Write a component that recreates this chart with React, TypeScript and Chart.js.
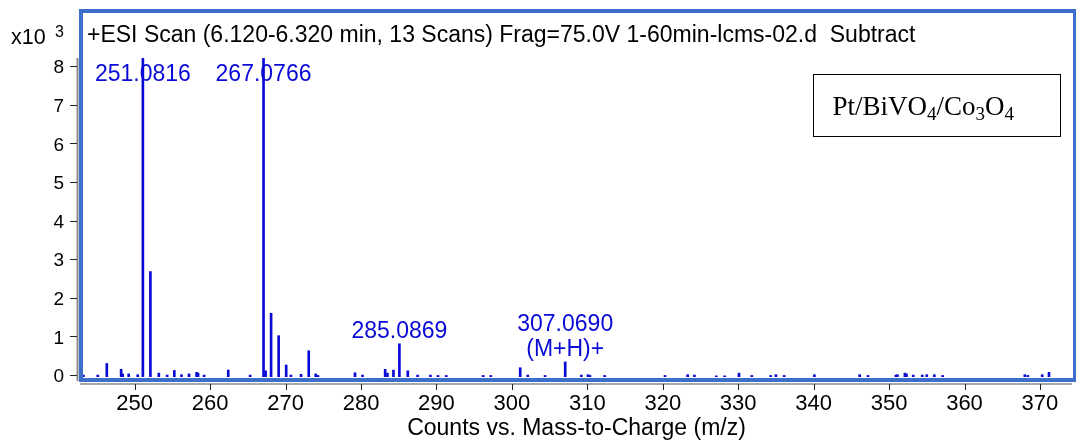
import React, { useEffect, useRef } from "react";
import { Chart, registerables } from "chart.js";

Chart.register(...registerables);

// m/z of each centroid peak
const mzValues: number[] = [
  243.2, 245.1, 246.3, 248.2, 248.4, 249.2, 250.4, 251.0816, 252.08, 253.2,
  254.3, 255.25, 256.2, 257.2, 258.2, 258.4, 259.2, 262.4, 265.3, 267.0766,
  267.35, 268.08, 269.08, 270.08, 270.7, 272.05, 273.07, 274.0, 274.3, 279.2,
  280.2, 283.2, 283.5, 284.3, 285.0869, 286.2, 287.5, 289.2, 290.2, 291.3,
  296.2, 297.2, 301.1, 302.1, 304.4, 307.069, 309.2, 310.1, 310.35, 312.3,
  320.3, 323.3, 324.2, 327.1, 328.2, 330.1, 331.8, 334.3, 335.0, 336.1,
  340.1, 346.1, 347.2, 350.9, 351.1, 352.1, 352.3, 353.2, 354.4, 355.0,
  356.0, 357.1, 368.0, 368.4, 370.3, 371.2,
];

// intensities in counts x 10^3
const intensities: number[] = [
  0.05, 0.05, 0.35, 0.2, 0.08, 0.08, 0.06, 8.26, 2.73, 0.1,
  0.05, 0.17, 0.06, 0.08, 0.12, 0.1, 0.05, 0.18, 0.05, 8.26,
  0.16, 1.65, 1.07, 0.31, 0.05, 0.07, 0.68, 0.08, 0.04, 0.11,
  0.05, 0.2, 0.1, 0.18, 0.86, 0.16, 0.05, 0.05, 0.04, 0.04,
  0.04, 0.04, 0.24, 0.05, 0.04, 0.39, 0.05, 0.06, 0.04, 0.04,
  0.04, 0.06, 0.05, 0.03, 0.03, 0.1, 0.04, 0.04, 0.06, 0.04,
  0.06, 0.06, 0.04, 0.05, 0.06, 0.1, 0.08, 0.05, 0.05, 0.06,
  0.06, 0.04, 0.06, 0.04, 0.06, 0.12,
];

const yTickValues: number[] = [0, 1, 2, 3, 4, 5, 6, 7, 8];
const xTickValues: number[] = [250, 260, 270, 280, 290, 300, 310, 320, 330, 340, 350, 360, 370];

const labelledMz: number[] = [251.0816, 267.0766, 285.0869, 307.069];
const labelledText: string[][] = [["251.0816"], ["267.0766"], ["285.0869"], ["307.0690", "(M+H)+"]];

const titleText = "+ESI Scan (6.120-6.320 min, 13 Scans) Frag=75.0V 1-60min-lcms-02.d  Subtract";
const xAxisTitle = "Counts vs. Mass-to-Charge (m/z)";
const legendParts: [string, boolean][] = [
  ["Pt/BiVO", false], ["4", true], ["/Co", false], ["3", true], ["O", false], ["4", true],
];

const SANS = "'Liberation Sans', Arial, sans-serif";
const SERIF = "'Liberation Serif', 'Times New Roman', serif";
const PEAK_BLUE = "#0a0ad6";
const FRAME_BLUE = "#3d6fca";

const decorPlugin = {
  id: "decor",
  afterDraw(chart: any) {
    const ctx = chart.ctx as CanvasRenderingContext2D;
    const xs = chart.scales.x;
    const ys = chart.scales.y;
    const area = chart.chartArea;
    ctx.save();

    // gray axis lines and ticks
    ctx.strokeStyle = "#8a8a8a";
    ctx.lineWidth = 2;
    ctx.beginPath();
    ctx.moveTo(77.5, area.top);
    ctx.lineTo(77.5, area.bottom + 4);
    ctx.stroke();
    ctx.lineWidth = 1.5;
    ctx.beginPath();
    ctx.moveTo(area.left - 1, 384);
    ctx.lineTo(area.right, 384);
    ctx.stroke();
    ctx.strokeStyle = "#222";
    ctx.lineWidth = 1;
    for (const v of yTickValues) {
      const py = Math.round(ys.getPixelForValue(v)) - 1.5;
      ctx.beginPath();
      ctx.moveTo(70, py);
      ctx.lineTo(77, py);
      ctx.stroke();
    }
    for (const v of xTickValues) {
      const px = Math.round(xs.getPixelForValue(v)) + 0.5;
      ctx.beginPath();
      ctx.moveTo(px, 384);
      ctx.lineTo(px, 390);
      ctx.stroke();
    }

    // frame
    ctx.strokeStyle = FRAME_BLUE;
    ctx.lineWidth = 4;
    ctx.strokeRect(81, 11, 994, 369);

    // title inside frame
    ctx.fillStyle = "#000";
    ctx.textBaseline = "middle";
    ctx.textAlign = "left";
    ctx.font = `23px ${SANS}`;
    ctx.fillText(titleText, 87, 36);

    // x10^3
    ctx.font = `21.5px ${SANS}`;
    ctx.fillText("x10", 11, 38);
    ctx.font = `16px ${SANS}`;
    ctx.fillText("3", 55, 33);

    // peak labels
    ctx.fillStyle = PEAK_BLUE;
    ctx.textAlign = "center";
    ctx.font = `23px ${SANS}`;
    labelledMz.forEach((mz, i) => {
      const idx = mzValues.indexOf(mz);
      const top = ys.getPixelForValue(intensities[idx]);
      const lines = labelledText[i];
      const lastY = Math.max(top - 12, 75 + (lines.length - 1) * 25);
      const px = xs.getPixelForValue(mz);
      lines.forEach((t, j) => {
        ctx.fillText(t, px, lastY - (lines.length - 1 - j) * 25);
      });
    });

    // legend box
    ctx.strokeStyle = "#000";
    ctx.lineWidth = 1;
    ctx.strokeRect(813.5, 74.5, 247, 62);
    ctx.fillStyle = "#000";
    ctx.textAlign = "left";
    ctx.textBaseline = "alphabetic";
    let tx = 832.5;
    const base = 115;
    for (const [t, sub] of legendParts) {
      ctx.font = sub ? `19px ${SERIF}` : `27px ${SERIF}`;
      ctx.fillText(t, tx, sub ? base + 5 : base);
      tx += ctx.measureText(t).width;
    }
    ctx.restore();
  },
};

export default function App() {
  const ref = useRef<HTMLCanvasElement | null>(null);
  useEffect(() => {
    if (!ref.current) return;
    const chart = new Chart(ref.current, {
      type: "bar",
      data: {
        datasets: [
          {
            data: mzValues.map((m, i) => ({ x: m, y: intensities[i] })),
            backgroundColor: PEAK_BLUE,
            borderWidth: 0,
            barThickness: 2,
          },
        ],
      },
      options: {
        animation: false,
        responsive: false,
        maintainAspectRatio: false,
        devicePixelRatio: 1,
        layout: { padding: { top: 58, right: 4, left: 0, bottom: 0 } },
        plugins: { legend: { display: false }, tooltip: { enabled: false }, title: { display: false } },
        scales: {
          x: {
            type: "linear",
            min: 242.88,
            max: 374.25,
            offset: false,
            grid: { display: false, drawTicks: false },
            border: { display: false },
            afterFit: (s: any) => { s.height = 66; },
            afterBuildTicks: (s: any) => { s.ticks = xTickValues.map((v) => ({ value: v })); },
            ticks: {
              includeBounds: false,
              autoSkip: false,
              maxRotation: 0,
              padding: 14,
              color: "#000",
              font: { family: SANS, size: 22 },
            },
            title: {
              display: true,
              text: xAxisTitle,
              color: "#000",
              font: { family: SANS, size: 23 },
              padding: { top: 0, bottom: 1 },
            },
          },
          y: {
            min: 0,
            max: 8.26,
            grid: { display: false, drawTicks: false },
            border: { display: false },
            afterFit: (s: any) => { s.width = 81; },
            afterBuildTicks: (s: any) => { s.ticks = yTickValues.map((v) => ({ value: v })); },
            ticks: {
              includeBounds: false,
              padding: 17,
              color: "#000",
              font: { family: SANS, size: 19 },
            },
          },
        },
      } as any,
      plugins: [decorPlugin],
    });
    return () => chart.destroy();
  }, []);
  return (
    <div style={{ position: "fixed", left: 0, top: 0, width: 1076, height: 443, background: "#fff" }}>
      <canvas ref={ref} width={1076} height={443} style={{ width: 1076, height: 443, display: "block" }} />
    </div>
  );
}
